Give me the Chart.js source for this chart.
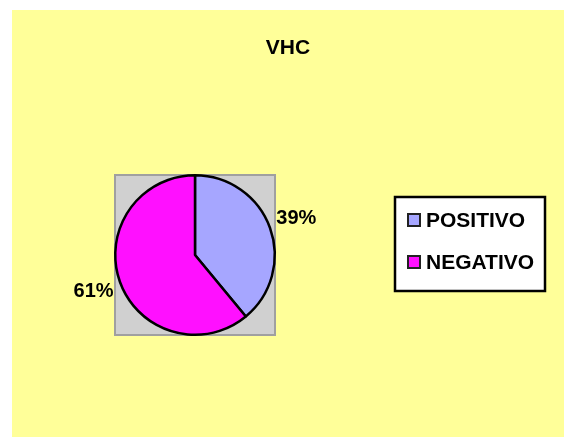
<!DOCTYPE html>
<html>
<head>
<meta charset="utf-8">
<script src="https://cdn.jsdelivr.net/npm/chart.js@4"></script>
<style>
  html, body { margin: 0; padding: 0; background: #fff; }
  #wrap { width: 564px; height: 437px; }
</style>
</head>
<body>
<div id="wrap"><canvas id="chartVHC" width="564" height="437"></canvas></div>
<script>
// VHC
var titleText = 'VHC';
var labels = ['POSITIVO', 'NEGATIVO'];
var values = [39, 61];
var colors = ['#A6A6FF', '#FF10FF'];

var fontBold = 'bold 21px "Liberation Sans", Arial, sans-serif';
var fontLabel = 'bold 20px "Liberation Sans", Arial, sans-serif';

var decorPlugin = {
    id: 'decor',
    beforeDraw: function (chart) {
        var ctx = chart.ctx;
        var a = chart.chartArea;
        ctx.save();
        // yellow chart background
        ctx.fillStyle = '#FFFF99';
        ctx.fillRect(12, 10, chart.width - 12, chart.height - 10);
        // gray plot area
        ctx.fillStyle = '#D0D0D0';
        ctx.fillRect(a.left, a.top, a.right - a.left, a.bottom - a.top);
        ctx.strokeStyle = '#A0A0A0';
        ctx.lineWidth = 2;
        ctx.strokeRect(a.left + 1, a.top + 1, a.right - a.left - 2, a.bottom - a.top - 2);
        ctx.restore();
    },
    afterDraw: function (chart) {
        var ctx = chart.ctx;
        ctx.save();
        ctx.fillStyle = '#000';
        ctx.textBaseline = 'middle';

        // title
        ctx.font = fontBold;
        ctx.textAlign = 'center';
        ctx.fillText(titleText, 288, 48);

        // percentage labels outside the slices
        ctx.font = fontLabel;
        var total = values.reduce(function (s, v) { return s + v; }, 0);
        chart.getDatasetMeta(0).data.forEach(function (arc, i) {
            var p = arc.getProps(['x', 'y', 'startAngle', 'endAngle', 'outerRadius'], true);
            var mid = (p.startAngle + p.endAngle) / 2;
            var r = p.outerRadius + 28;
            ctx.textAlign = 'center';
            ctx.fillText(Math.round(values[i] / total * 100) + '%', p.x + Math.cos(mid) * r, p.y + Math.sin(mid) * r);
        });

        // legend box
        ctx.font = fontBold;
        ctx.fillStyle = '#fff';
        ctx.fillRect(395, 197, 150, 94);
        ctx.strokeStyle = '#000';
        ctx.lineWidth = 2.5;
        ctx.strokeRect(395, 197, 150, 94);
        labels.forEach(function (lab, i) {
            var y = 220 + i * 42;
            ctx.fillStyle = colors[i];
            ctx.fillRect(408, y - 6, 12, 12);
            ctx.strokeStyle = '#222';
            ctx.lineWidth = 2;
            ctx.strokeRect(408, y - 6, 12, 12);
            ctx.fillStyle = '#000';
            ctx.textAlign = 'left';
            ctx.fillText(lab, 426, y + 1);
        });
        ctx.restore();
    }
};

new Chart(document.getElementById('chartVHC').getContext('2d'), {
    type: 'pie',
    data: {
        labels: labels,
        datasets: [{
            data: values,
            backgroundColor: colors,
            borderColor: '#000',
            borderWidth: 2.5
        }]
    },
    options: {
        responsive: false,
        animation: false,
        layout: {
            padding: { left: 114, top: 174, right: 288, bottom: 101 }
        },
        plugins: {
            legend: { display: false },
            title: { display: false },
            tooltip: { enabled: false }
        }
    },
    plugins: [decorPlugin]
});
</script>
</body>
</html>
